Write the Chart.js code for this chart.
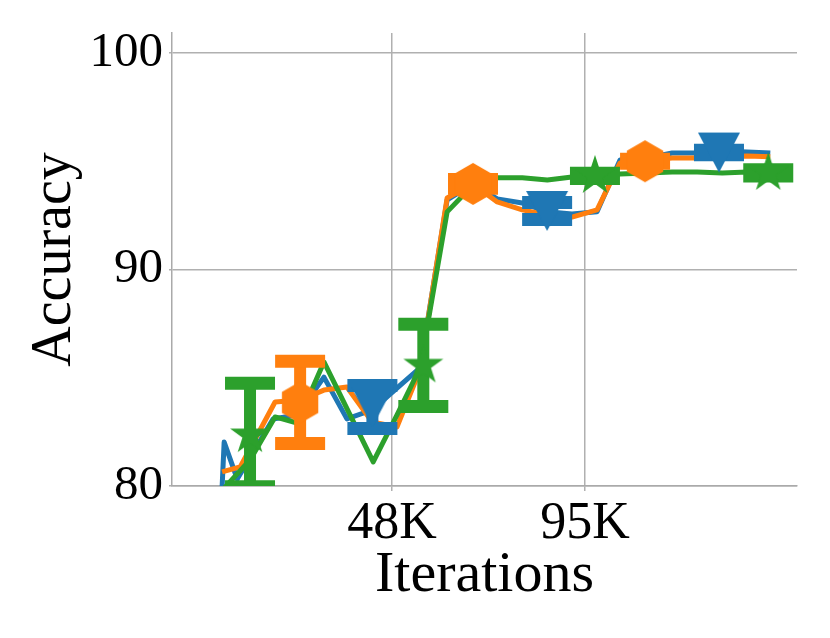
<!DOCTYPE html>
<html lang="en">
<head>
<meta charset="UTF-8">
<title>Accuracy vs Iterations</title>
<script src="https://cdn.jsdelivr.net/npm/chart.js"></script>
<style>
    html, body { margin: 0; padding: 0; background: #fff; }
    #wrap { width: 830px; height: 638px; }
</style>
</head>
<body>
<div id="wrap"><canvas id="accChart" width="830" height="638"></canvas></div>
<script>
// iterations in thousands
const blueX = [6.6, 7.1, 10.3, 19.0, 24.9, 31.4, 37.0, 43.1, 54.8, 61.4, 67.7, 73.6, 79.7, 85.8, 91.8, 97.9, 103.5, 110.1, 116.2, 122.3, 128.4, 134.5, 140.1];
const blueY = [79.95, 82.03, 80.32, 83.09, 83.28, 85.03, 83.1, 83.51, 85.45, 93.21, 93.95, 93.26, 93.07, 92.66, 92.56, 92.66, 95.06, 95.15, 95.38, 95.38, 95.47, 95.43, 95.38];

const orangeX = [6.6, 11.0, 19.5, 25.6, 31.4, 37.0, 43.1, 49.2, 54.8, 61.4, 67.7, 73.6, 79.7, 85.8, 91.8, 97.9, 103.5, 110.1, 116.2, 122.3, 128.4, 134.5, 140.1];
const orangeY = [80.65, 80.88, 83.88, 83.97, 84.43, 84.57, 82.96, 82.73, 85.36, 93.30, 93.95, 93.12, 92.75, 92.52, 92.42, 92.75, 94.92, 95.06, 95.15, 95.15, 95.20, 95.24, 95.20];

const greenX = [7.1, 13.4, 19.5, 24.9, 31.4, 43.4, 49.2, 54.8, 61.4, 67.7, 73.6, 79.7, 85.8, 91.8, 97.9, 103.5, 110.1, 116.2, 122.3, 128.4, 134.5, 140.1];
const greenY = [79.9, 81.2, 83.19, 82.91, 85.73, 81.11, 83.28, 85.45, 92.66, 93.9, 94.23, 94.23, 94.13, 94.27, 94.32, 94.41, 94.46, 94.5, 94.5, 94.46, 94.5, 94.46];

// markers with error bars
const blueMarkX = [43.2, 85.75, 127.6];
const blueMarkY = [83.65, 92.7, 95.4];
const blueErr = [0.99, 0.39, 0.1];

const orangeMarkX = [25.6, 67.7, 109.6];
const orangeMarkY = [83.86, 93.95, 95.0];
const orangeErr = [1.9, 0.2, 0.09];

const greenMarkX = [13.4, 55.6, 97.4, 139.6];
const greenMarkY = [82.35, 85.57, 94.32, 94.46];
const greenErr = [2.39, 1.9, 0.12, 0.14];

const iterTicks = [48, 95];
const accTicks = [80, 90, 100];

const BLUE = '#1f77b4', ORANGE = '#ff7f0e', GREEN = '#2ca02c';

function pts(xs, ys) {
    return xs.map((x, i) => ({ x: x, y: ys[i] }));
}

function makeMarker(kind, color) {
    const c = document.createElement('canvas');
    c.width = 46; c.height = 46;
    const g = c.getContext('2d');
    const cx = 23, cy = 23, r = 21;
    g.fillStyle = color;
    g.beginPath();
    if (kind === 'hex') {
        for (let i = 0; i < 6; i++) {
            const a = -Math.PI / 2 + i * Math.PI / 3;
            g.lineTo(cx + r * Math.cos(a), cy + r * Math.sin(a));
        }
    } else if (kind === 'tri') {
        g.moveTo(cx - r, cy - 20);
        g.lineTo(cx + r, cy - 20);
        g.lineTo(cx, cy + 20);
    } else {
        for (let i = 0; i < 10; i++) {
            const a = -Math.PI / 2 + i * Math.PI / 5;
            const rr = i % 2 ? r * 0.382 : r;
            g.lineTo(cx + rr * Math.cos(a), cy + rr * Math.sin(a));
        }
    }
    g.closePath();
    g.fill();
    return c;
}

// error bars drawn just before each marker dataset
const errorBars = {
    id: 'errorBars',
    beforeDatasetDraw(chart, args) {
        const ds = chart.data.datasets[args.index];
        if (!ds.err) return;
        const ctx = chart.ctx, area = chart.chartArea;
        const xs = chart.scales.x, ys = chart.scales.y;
        ctx.save();
        ctx.beginPath();
        ctx.rect(area.left, area.top, area.right - area.left, area.bottom - area.top);
        ctx.clip();
        ctx.strokeStyle = ds.borderColor;
        ds.data.forEach((p, i) => {
            const px = xs.getPixelForValue(p.x);
            const top = ys.getPixelForValue(p.y + ds.err[i]);
            const bot = ys.getPixelForValue(p.y - ds.err[i]);
            ctx.lineWidth = 12;
            ctx.beginPath();
            ctx.moveTo(px, top);
            ctx.lineTo(px, bot);
            ctx.stroke();
            ctx.lineWidth = 13;
            ctx.beginPath();
            ctx.moveTo(px - 25, top); ctx.lineTo(px + 25, top);
            ctx.moveTo(px - 25, bot); ctx.lineTo(px + 25, bot);
            ctx.stroke();
        });
        ctx.restore();
    }
};

function lineSet(data, color, order) {
    return {
        data: data, borderColor: color, backgroundColor: color,
        borderWidth: 5, pointRadius: 0, tension: 0, fill: false,
        borderJoinStyle: 'round', order: order
    };
}

function markSet(data, err, color, style, order) {
    return {
        data: data, err: err, borderColor: color, backgroundColor: color,
        showLine: false, pointStyle: style, pointRadius: 21, order: order
    };
}

Chart.defaults.font.family = '"Liberation Serif", "Times New Roman", serif';
Chart.defaults.color = '#000';

new Chart(document.getElementById('accChart'), {
    type: 'line',
    data: {
        datasets: [
            lineSet(pts(blueX, blueY), BLUE, 6),
            lineSet(pts(orangeX, orangeY), ORANGE, 5),
            lineSet(pts(greenX, greenY), GREEN, 4),
            markSet(pts(blueMarkX, blueMarkY), blueErr, BLUE, makeMarker('tri', BLUE), 3),
            markSet(pts(orangeMarkX, orangeMarkY), orangeErr, ORANGE, makeMarker('hex', ORANGE), 2),
            markSet(pts(greenMarkX, greenMarkY), greenErr, GREEN, makeMarker('star', GREEN), 1)
        ]
    },
    plugins: [errorBars],
    options: {
        responsive: false,
        animation: false,
        devicePixelRatio: 1,
        layout: { padding: { top: 33, right: 33, left: 0, bottom: 0 } },
        plugins: { legend: { display: false }, tooltip: { enabled: false } },
        scales: {
            x: {
                type: 'linear',
                min: -5.6,
                max: 146.6,
                afterBuildTicks: s => { s.ticks = iterTicks.map(v => ({ value: v })); },
                afterFit: s => { s.height = 152; s.paddingLeft = 0; s.paddingRight = 0; },
                ticks: {
                    font: { size: 52 },
                    padding: 2,
                    maxRotation: 0,
                    callback: v => v + 'K'
                },
                grid: { color: '#b0b0b0', lineWidth: 1.5, tickLength: 5 },
                border: { color: '#aaaaaa', width: 1.5 },
                title: {
                    display: true, text: 'Iterations',
                    font: { size: 58 }, padding: { top: 0, bottom: 27 }
                }
            },
            y: {
                min: 80,
                max: 100.92,
                afterBuildTicks: s => { s.ticks = accTicks.map(v => ({ value: v })); },
                afterFit: s => { s.width = 172; s.paddingTop = 0; s.paddingBottom = 0; },
                ticks: { font: { size: 49 }, padding: 6 },
                grid: { color: '#b0b0b0', lineWidth: 1.5, tickLength: 3 },
                border: { color: '#aaaaaa', width: 1.5 },
                title: {
                    display: true, text: 'Accuracy',
                    font: { size: 56 }, padding: { top: 22, bottom: 0 }
                }
            }
        }
    }
});
</script>
</body>
</html>
